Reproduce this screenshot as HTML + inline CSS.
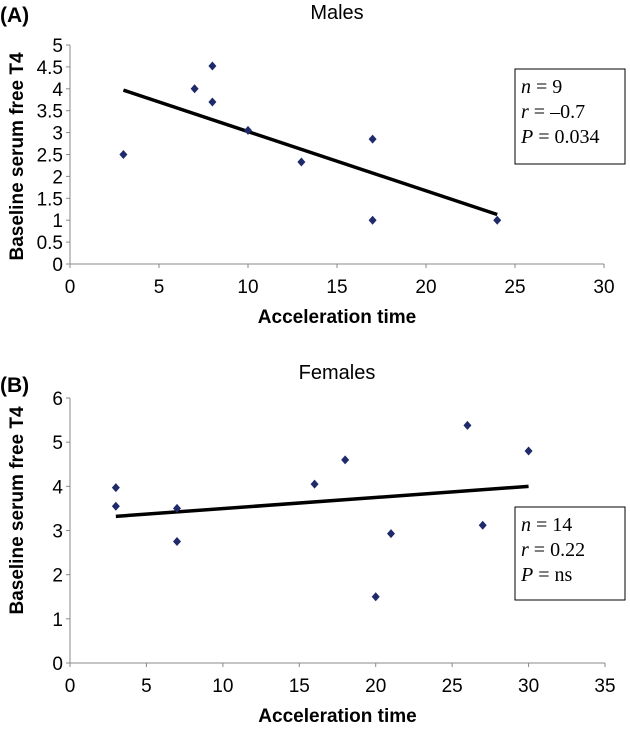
<!DOCTYPE html>
<html><head><meta charset="utf-8"><style>
body{margin:0;background:#fff;}
svg text{font-family:"Liberation Sans",Arial,sans-serif;}
</style></head><body>
<svg width="630" height="727" viewBox="0 0 630 727">
<g id="A"></g>
<g id="B"></g>
</svg>
<script>
const maleX=[3,7,8,8,10,13,17,17,24];
const maleY=[2.5,4.0,4.52,3.7,3.05,2.33,2.85,1.0,1.0];
const maleLineX=[3,24];
const maleLineY=[3.97,1.13];
const maleYTicks=[0,0.5,1,1.5,2,2.5,3,3.5,4,4.5,5];
const maleXTicks=[0,5,10,15,20,25,30];
const femX=[3,3,7,7,16,18,20,21,26,27,30];
const femY=[3.97,3.55,3.5,2.75,4.05,4.6,1.5,2.93,5.38,3.12,4.8];
const femLineX=[3,30];
const femLineY=[3.32,4.0];
const femYTicks=[0,1,2,3,4,5,6];
const femXTicks=[0,5,10,15,20,25,30,35];
const NS="http://www.w3.org/2000/svg";
function mk(p,t,a,txt){const e=document.createElementNS(NS,t);for(const k in a)e.setAttribute(k,a[k]);if(txt!==undefined)e.textContent=txt;p.appendChild(e);return e;}
function panel(g,o){
 const sx=v=>o.x0+(v-o.xmin)/(o.xmax-o.xmin)*(o.x1-o.x0);
 const sy=v=>o.y0-(v-o.ymin)/(o.ymax-o.ymin)*(o.y0-o.y1);
 let t=mk(g,'text',{x:o.tx,y:o.ty,'font-size':20,'text-anchor':'middle'},o.title);
 
 t=mk(g,'text',{x:0,y:o.ly,'font-size':21,'font-weight':'bold'},o.label);
 
 let ax=mk(g,'line',{x1:o.x0,y1:o.y0,x2:o.x1,y2:o.y0,stroke:'#888','stroke-width':1});
 
 ax=mk(g,'line',{x1:o.x0,y1:o.y0,x2:o.x0,y2:o.y1,stroke:'#888','stroke-width':1});
 
 o.yt.forEach(v=>{mk(g,'line',{x1:o.x0-4,x2:o.x0,y1:sy(v),y2:sy(v),stroke:'#888'});
  const e=mk(g,'text',{x:o.x0-7,y:sy(v)+7,'font-size':19,'text-anchor':'end'},String(v));
  });
 o.xt.forEach(v=>{mk(g,'line',{x1:sx(v),x2:sx(v),y1:o.y0,y2:o.y0+4,stroke:'#888'});
  const e=mk(g,'text',{x:sx(v),y:o.y0+29,'font-size':19,'text-anchor':'middle'},String(v));
  });
 t=mk(g,'text',{x:(o.x0+o.x1)/2,y:o.y0+59,'font-size':19,'font-weight':'bold','text-anchor':'middle'},'Acceleration time');
 
 const cy=(o.y0+o.y1)/2+o.yoff;
 t=mk(g,'text',{x:0,y:0,'font-size':19,'font-weight':'bold','text-anchor':'middle',transform:`translate(23,${cy}) rotate(-90)`},'Baseline serum free T4');
 
 const ln=mk(g,'line',{x1:sx(o.lx[0]),y1:sy(o.ly2[0]),x2:sx(o.lx[1]),y2:sy(o.ly2[1]),stroke:'#000','stroke-width':3.5});
 
 o.px.forEach((x,i)=>{const X=sx(x),Y=sy(o.py[i]);
  const p=mk(g,'path',{d:`M${X},${Y-4.5}L${X+4},${Y}L${X},${Y+4.5}L${X-4},${Y}Z`,fill:'#1f2a6b'});
  });
 const b=mk(g,'rect',{x:o.bx,y:o.by,width:o.bw,height:o.bh,fill:'#fff',stroke:'#000'});
 
 o.stats.forEach((s,i)=>{const e=mk(g,'text',{x:o.bx+6,y:o.by+24+i*25,'font-size':20});
  e.style.fontFamily='"Liberation Serif",serif';
  mk(e,'tspan',{'font-style':'italic'},s[0]);mk(e,'tspan',{},' = '+s[1]);
  });
}
panel(document.getElementById('A'),{x0:70,x1:604,y0:264,y1:45,xmin:0,xmax:30,ymin:0,ymax:5,yt:maleYTicks,xt:maleXTicks,
 px:maleX,py:maleY,lx:maleLineX,ly2:maleLineY,title:'Males',tx:337,ty:19,label:'(A)',ly:22,yoff:2,
 bx:515,by:69,bw:110,bh:95,stats:[['n','9'],['r','–0.7'],['P','0.034']]});
panel(document.getElementById('B'),{x0:70,x1:605,y0:663,y1:398,xmin:0,xmax:35,ymin:0,ymax:6,yt:femYTicks,xt:femXTicks,
 px:femX,py:femY,lx:femLineX,ly2:femLineY,title:'Females',tx:337,ty:379,label:'(B)',ly:392,yoff:-20,
 bx:515,by:507,bw:110,bh:93,stats:[['n','14'],['r','0.22'],['P','ns']]});
</script>
</body></html>
